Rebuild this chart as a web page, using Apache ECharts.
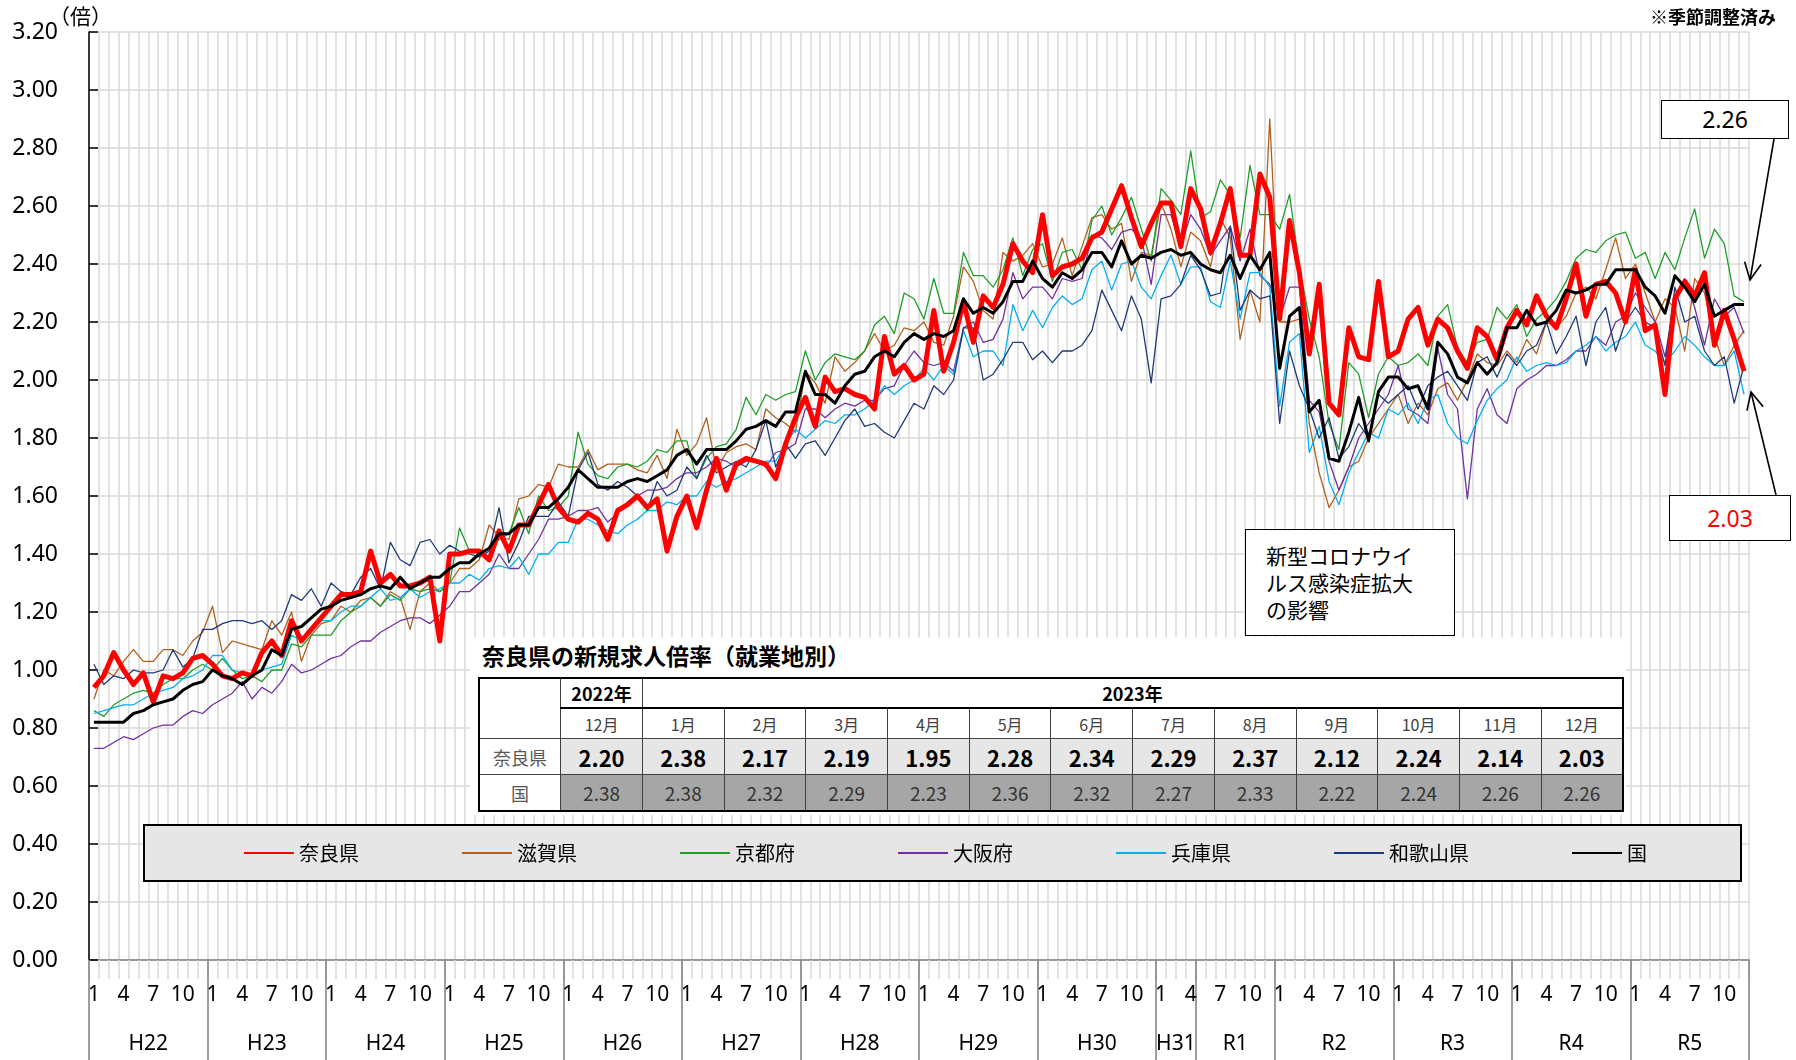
<!DOCTYPE html>
<html lang="ja">
<head>
<meta charset="utf-8">
<title>奈良県の新規求人倍率</title>
<script src="https://cdn.jsdelivr.net/npm/echarts@6.0.0/dist/echarts.min.js"></script>
<style>
html,body{margin:0;padding:0;background:#fff;}
#wrap{position:relative;width:1796px;height:1060px;overflow:hidden;background:#fff;}
#chart{position:absolute;left:0;top:0;width:1796px;height:1060px;}
.ov{position:absolute;font-family:"Noto Sans CJK JP","Noto Sans",sans-serif;color:#000;}
#tblbg{left:470px;top:637px;width:1156px;height:178px;background:#fff;}
#ttl{left:482px;top:639px;font-size:23px;font-weight:bold;line-height:32px;white-space:nowrap;}
#tbl{left:478px;top:677px;border-collapse:collapse;table-layout:fixed;width:1144px;border:2px solid #000;background:#fff;}
#tbl td{border:1px solid #404040;text-align:center;padding:0;overflow:hidden;white-space:nowrap;}
#tbl tr.r1 td{height:28px;font-size:18px;font-weight:bold;border-bottom:2px solid #000;}
#tbl tr.r2 td{height:29px;font-size:16px;color:#404040;}
#tbl tr.r3 td{height:35px;font-size:22px;font-weight:bold;background:#e7e6e6;}
#tbl tr.r4 td{height:35px;font-size:19px;color:#333;background:#a6a6a6;}
#tbl td.lab{background:#fff !important;font-size:18px !important;font-weight:normal !important;color:#595959 !important;}
#covid{left:1245px;top:529px;width:210px;height:107px;box-sizing:border-box;border:1px solid #000;background:#fff;font-size:21px;line-height:27px;padding:12px 0 0 20px;}
.vbox{box-sizing:border-box;border:1px solid #000;background:#fff;font-size:23px;text-align:center;font-family:"Noto Sans",sans-serif;}
#b226{left:1661px;top:100px;width:128px;height:39px;line-height:37px;}
#b203{left:1669px;top:495px;width:122px;height:46px;line-height:44px;color:#ff0000;}
#note{left:1650px;top:3px;font-size:18px;font-weight:bold;white-space:nowrap;}
#unit{left:49px;top:0px;font-size:21px;white-space:nowrap;}
</style>
</head>
<body>
<div id="wrap">
  <div id="chart"></div>
  <div id="tblbg" class="ov"></div>
  <div id="ttl" class="ov">奈良県の新規求人倍率（就業地別）</div>
  <table id="tbl" class="ov"></table>
  <div id="covid" class="ov">新型コロナウイ<br>ルス感染症拡大<br>の影響</div>
  <div id="b226" class="ov vbox">2.26</div>
  <div id="b203" class="ov vbox">2.03</div>
  <div id="note" class="ov">※季節調整済み</div>
  <div id="unit" class="ov">（倍）</div>
  <svg id="arrows" class="ov" style="left:0;top:0;" width="1796" height="1060"></svg>
</div>
<script>
// ---------- data (monthly, Jan 2010 (H22) .. Dec 2023 (R5)) ----------
const monthNames = ['1','2','3','4','5','6','7','8','9','10','11','12'];
const yearNames = ['H22','H23','H24','H25','H26','H27','H28','H29','H30','H31','R1','R2','R3','R4','R5'];
const yearCenters = [6,18,30,42,54,66,78,90,102,110,116,126,138,150,162];
const yearBounds = [0,12,24,36,48,60,72,84,96,108,112,120,132,144,156,168];
const seriesNames = ['奈良県','滋賀県','京都府','大阪府','兵庫県','和歌山県','国'];

const nara = [
 0.94,0.98,1.06,1.00,0.95,0.99,0.89,0.98,0.97,0.99,1.04,1.05,
 1.02,0.98,0.97,0.99,0.98,1.06,1.10,1.05,1.17,1.10,1.14,1.18,
 1.22,1.26,1.26,1.27,1.41,1.30,1.33,1.29,1.29,1.30,1.32,1.10,
 1.40,1.40,1.41,1.41,1.38,1.48,1.41,1.50,1.50,1.57,1.64,1.56,
 1.52,1.51,1.54,1.52,1.45,1.55,1.57,1.60,1.56,1.59,1.41,1.53,
 1.60,1.49,1.62,1.73,1.62,1.71,1.73,1.72,1.71,1.66,1.78,1.87,
 1.94,1.84,2.01,1.96,1.97,1.95,1.94,1.90,2.15,2.02,2.05,2.00,
 2.02,2.24,2.03,2.13,2.27,2.13,2.29,2.25,2.33,2.47,2.41,2.37,
 2.57,2.36,2.39,2.40,2.42,2.49,2.51,2.59,2.67,2.56,2.46,2.54,
 2.61,2.61,2.46,2.66,2.59,2.44,2.54,2.66,2.43,2.43,2.71,2.63,
 2.21,2.55,2.37,2.09,2.33,1.92,1.88,2.18,2.08,2.07,2.34,2.08,
 2.10,2.21,2.25,2.12,2.21,2.18,2.10,2.04,2.18,2.15,2.07,2.18,
 2.24,2.19,2.29,2.22,2.18,2.28,2.40,2.22,2.33,2.34,2.30,2.20,
 2.38,2.17,2.19,1.95,2.28,2.34,2.29,2.37,2.12,2.24,2.14,2.03
];
const shiga = [
 0.90,1.00,0.98,1.03,1.07,1.03,1.03,1.07,1.07,1.05,1.10,1.13,
 1.22,1.06,1.10,1.09,1.08,1.07,1.17,1.12,1.20,1.03,1.12,1.16,
 1.17,1.22,1.20,1.24,1.25,1.22,1.27,1.25,1.14,1.27,1.30,1.27,
 1.30,1.35,1.35,1.38,1.50,1.46,1.45,1.59,1.60,1.64,1.63,1.71,
 1.70,1.70,1.76,1.69,1.71,1.71,1.71,1.69,1.68,1.74,1.66,1.83,
 1.74,1.78,1.87,1.69,1.75,1.77,1.78,1.76,1.90,1.87,1.85,1.82,
 2.03,1.99,1.92,2.08,2.03,2.06,2.10,2.16,2.10,2.12,2.18,2.17,
 2.20,2.13,2.12,2.22,2.39,2.34,2.24,2.21,2.44,2.41,2.43,2.47,
 2.39,2.40,2.49,2.36,2.46,2.56,2.57,2.52,2.54,2.34,2.44,2.43,
 2.61,2.52,2.39,2.51,2.48,2.39,2.56,2.49,2.14,2.31,2.20,2.90,
 2.20,2.20,2.21,1.85,1.68,1.56,1.62,1.70,1.72,1.80,1.85,1.90,
 1.95,1.85,1.92,1.88,1.97,1.99,1.93,2.00,2.09,2.06,2.05,2.10,
 2.06,2.14,2.09,2.20,2.18,2.22,2.30,2.32,2.28,2.38,2.49,2.35,
 2.40,2.30,2.20,2.28,2.25,2.10,2.35,2.30,2.15,2.05,2.12,2.17
];
const kyoto = [
 0.86,0.84,0.88,0.90,0.92,0.93,0.92,0.95,0.97,0.97,1.00,1.02,
 1.00,1.04,1.00,0.97,0.98,0.96,1.00,1.00,1.09,1.08,1.12,1.12,
 1.12,1.17,1.20,1.22,1.25,1.22,1.26,1.24,1.28,1.27,1.28,1.27,
 1.30,1.49,1.41,1.40,1.42,1.45,1.47,1.56,1.47,1.60,1.55,1.56,
 1.60,1.82,1.71,1.67,1.66,1.70,1.71,1.70,1.72,1.76,1.75,1.79,
 1.79,1.66,1.73,1.77,1.78,1.83,1.94,1.88,1.95,1.93,1.95,1.96,
 2.10,2.00,2.06,2.09,2.08,2.07,2.10,2.19,2.22,2.16,2.30,2.28,
 2.21,2.35,2.23,2.23,2.44,2.36,2.36,2.32,2.38,2.49,2.36,2.45,
 2.47,2.34,2.44,2.45,2.38,2.55,2.60,2.50,2.56,2.63,2.52,2.41,
 2.66,2.62,2.57,2.79,2.56,2.58,2.69,2.64,2.49,2.74,2.57,2.57,
 2.52,2.64,2.39,2.21,2.08,1.85,1.76,2.06,2.02,1.87,2.02,2.08,
 2.05,2.06,2.09,2.05,2.22,2.26,2.11,2.06,2.13,2.14,2.25,2.21,
 2.26,2.15,2.21,2.24,2.28,2.34,2.42,2.45,2.44,2.48,2.50,2.51,
 2.42,2.44,2.35,2.44,2.38,2.49,2.59,2.42,2.52,2.47,2.29,2.27
];
const osaka = [
 0.73,0.73,0.75,0.77,0.76,0.78,0.80,0.81,0.81,0.84,0.86,0.85,
 0.88,0.90,0.92,0.96,0.90,0.94,0.92,0.96,1.02,0.99,1.00,1.02,
 1.04,1.05,1.08,1.10,1.10,1.13,1.15,1.17,1.18,1.18,1.16,1.19,
 1.22,1.27,1.27,1.30,1.33,1.40,1.35,1.35,1.40,1.45,1.52,1.52,
 1.53,1.55,1.55,1.56,1.51,1.54,1.58,1.60,1.62,1.62,1.63,1.66,
 1.68,1.68,1.70,1.73,1.72,1.70,1.72,1.72,1.70,1.75,1.76,1.78,
 1.90,1.90,1.87,1.90,1.92,1.91,1.93,1.93,1.97,1.98,2.05,2.10,
 2.06,2.05,2.06,2.03,2.18,2.20,2.13,2.14,2.21,2.37,2.28,2.32,
 2.32,2.28,2.35,2.34,2.35,2.50,2.49,2.45,2.51,2.52,2.49,2.33,
 2.57,2.57,2.46,2.57,2.52,2.43,2.48,2.53,2.41,2.52,2.36,2.33,
 2.21,2.32,2.32,1.93,1.89,1.72,1.62,1.70,1.80,1.85,1.90,1.95,
 2.05,1.90,1.88,1.85,2.11,1.95,1.90,1.59,1.90,1.97,1.88,1.85,
 1.97,2.00,2.02,2.05,2.05,2.07,2.10,2.10,2.15,2.12,2.20,2.22,
 2.30,2.25,2.20,2.08,2.28,2.35,2.25,2.12,2.28,2.22,2.25,2.16
];
const hyogo = [
 0.85,0.86,0.87,0.88,0.88,0.90,0.92,0.93,0.94,0.97,0.98,1.00,
 1.05,1.05,1.00,0.99,0.98,1.00,1.01,1.02,1.12,1.10,1.14,1.17,
 1.17,1.20,1.22,1.22,1.25,1.28,1.24,1.25,1.28,1.25,1.27,1.28,
 1.30,1.30,1.33,1.31,1.35,1.36,1.35,1.39,1.33,1.40,1.40,1.44,
 1.44,1.52,1.52,1.50,1.48,1.47,1.50,1.52,1.55,1.55,1.58,1.57,
 1.60,1.60,1.65,1.63,1.65,1.66,1.68,1.70,1.72,1.72,1.78,1.83,
 1.80,1.83,1.86,1.85,1.88,1.88,1.90,1.93,1.98,1.95,1.98,2.00,
 2.04,2.00,2.05,2.02,2.17,2.08,2.10,2.10,2.05,2.26,2.17,2.24,
 2.18,2.25,2.29,2.26,2.28,2.38,2.41,2.31,2.40,2.41,2.32,2.28,
 2.36,2.43,2.33,2.39,2.39,2.27,2.25,2.41,2.21,2.37,2.37,2.32,
 1.91,2.13,2.16,1.75,1.84,1.65,1.57,1.68,1.75,1.82,1.80,1.90,
 1.88,1.92,1.85,1.93,1.95,1.85,1.80,1.78,1.86,1.93,1.97,2.00,
 2.08,2.03,2.05,2.06,2.05,2.06,2.10,2.12,2.15,2.10,2.13,2.15,
 2.20,2.12,2.10,2.06,2.10,2.15,2.12,2.08,2.05,2.05,2.10,1.95
];
const wakayama = [
 1.02,0.95,0.98,0.97,1.00,0.99,0.99,1.00,1.07,1.01,1.04,1.14,
 1.14,1.16,1.17,1.17,1.16,1.17,1.14,1.17,1.26,1.24,1.28,1.22,
 1.30,1.27,1.26,1.32,1.35,1.28,1.44,1.38,1.36,1.44,1.45,1.40,
 1.43,1.41,1.40,1.39,1.41,1.56,1.37,1.44,1.53,1.53,1.53,1.58,
 1.53,1.69,1.75,1.64,1.62,1.65,1.63,1.60,1.55,1.65,1.60,1.62,
 1.70,1.66,1.74,1.68,1.70,1.72,1.70,1.76,1.86,1.70,1.78,1.73,
 1.78,1.79,1.74,1.80,1.86,1.90,1.84,1.85,1.82,1.80,1.86,1.92,
 1.90,1.98,1.95,2.00,2.18,2.18,2.00,2.02,2.07,2.13,2.13,2.07,
 2.10,2.06,2.10,2.10,2.12,2.17,2.31,2.24,2.17,2.29,2.21,1.99,
 2.28,2.29,2.33,2.43,2.38,2.29,2.30,2.53,2.24,2.31,2.28,2.29,
 1.85,2.10,1.98,1.90,1.80,1.87,1.73,1.77,1.85,1.80,1.95,1.92,
 1.95,1.98,1.90,1.98,2.01,2.03,1.98,1.93,2.06,2.08,2.01,2.09,
 2.05,2.10,2.12,2.20,2.09,2.15,2.22,2.05,2.20,2.25,2.10,2.20,
 2.25,2.20,2.18,2.05,2.32,2.20,2.22,2.10,2.05,2.08,1.92,2.05
];
const national = [
 0.82,0.82,0.82,0.82,0.85,0.86,0.88,0.89,0.90,0.93,0.95,0.96,
 1.00,0.98,0.97,0.95,0.98,1.00,1.07,1.05,1.14,1.15,1.18,1.21,
 1.22,1.24,1.25,1.26,1.28,1.29,1.28,1.32,1.28,1.30,1.32,1.32,
 1.35,1.37,1.37,1.40,1.42,1.47,1.47,1.50,1.50,1.56,1.56,1.59,
 1.63,1.69,1.66,1.63,1.63,1.63,1.65,1.66,1.65,1.67,1.69,1.74,
 1.76,1.71,1.76,1.76,1.76,1.79,1.83,1.84,1.86,1.84,1.89,1.89,
 2.03,1.95,1.95,1.92,1.98,2.02,2.03,2.08,2.10,2.08,2.13,2.16,
 2.14,2.16,2.15,2.17,2.28,2.23,2.25,2.23,2.27,2.34,2.34,2.41,
 2.35,2.32,2.37,2.35,2.38,2.44,2.44,2.39,2.48,2.40,2.43,2.42,
 2.44,2.45,2.43,2.44,2.40,2.38,2.37,2.43,2.35,2.43,2.38,2.44,
 2.04,2.22,2.25,1.89,1.93,1.73,1.72,1.82,1.94,1.79,1.96,2.01,
 2.01,1.97,1.98,1.90,2.13,2.09,2.01,1.99,2.06,2.02,2.06,2.18,
 2.18,2.24,2.19,2.20,2.24,2.31,2.30,2.31,2.33,2.33,2.38,2.38,
 2.38,2.32,2.29,2.23,2.36,2.32,2.27,2.33,2.22,2.24,2.26,2.26
];

// table (Dec 2022 .. Dec 2023)
const tableYears = [{label:'2022年', span:1}, {label:'2023年', span:12}];
const tableMonths = ['12月','1月','2月','3月','4月','5月','6月','7月','8月','9月','10月','11月','12月'];
const tableNara = [2.20,2.38,2.17,2.19,1.95,2.28,2.34,2.29,2.37,2.12,2.24,2.14,2.03];
const tableNation = [2.38,2.38,2.32,2.29,2.23,2.36,2.32,2.27,2.33,2.22,2.24,2.26,2.26];

// ---------- build categories ----------
const categories = [];
for (let y = 0; y < 14; y++) for (let m = 0; m < 12; m++) categories.push(monthNames[m]);

const seriesData = [nara, shiga, kyoto, osaka, hyogo, wakayama, national];
const seriesColors = ['#ff0000','#b0601e','#1f9e2a','#7030a0','#00b0f0','#1f3a78','#000000'];
const seriesWidths = [5, 1.3, 1.3, 1.3, 1.3, 1.3, 3];
const seriesZ = [8, 3, 3, 3, 3, 3, 9];

const chart = echarts.init(document.getElementById('chart'), null, {renderer:'canvas'});
const gridColor = '#d9d9d9';
chart.setOption({
  animation: false,
  backgroundColor: '#ffffff',
  grid: {left: 89, right: 47, top: 32, bottom: 100, containLabel: false},
  xAxis: [
    {
      type: 'category', data: categories, boundaryGap: true,
      axisLine: {show: true, lineStyle: {color: '#7f7f7f', width: 1.5}},
      axisTick: {show: true, interval: 0, length: 19, lineStyle: {color: gridColor, width: 1.5}},
      axisLabel: {interval: function (idx) { return idx % 3 === 0; }, fontSize: 21, color: '#000',
                  margin: 25, fontFamily: 'Noto Sans'},
      splitLine: {show: true, interval: 0, lineStyle: {color: gridColor, width: 1.5}}
    },
    {
      type: 'value', min: 0, max: 168, interval: 2, position: 'bottom',
      axisLine: {show: false}, splitLine: {show: false},
      axisTick: {show: true, customValues: yearBounds, length: 100, lineStyle: {color: '#7f7f7f', width: 1.5}},
      axisLabel: {customValues: yearCenters, fontSize: 21, color: '#000', margin: 74, fontFamily: 'Noto Sans',
                  formatter: function (v) { const k = yearCenters.indexOf(Math.round(v)); return k >= 0 ? yearNames[k] : ''; }}
    }
  ],
  yAxis: {
    type: 'value', min: 0, max: 3.2, interval: 0.2,
    axisLine: {show: true, lineStyle: {color: '#000', width: 1.5}},
    axisTick: {show: true, inside: true, length: 9, lineStyle: {color: '#000', width: 1.5}},
    axisLabel: {formatter: function (v) { return v.toFixed(2); }, fontSize: 23, color: '#000', margin: 31, fontFamily: 'Noto Sans'},
    splitLine: {show: true, lineStyle: {color: gridColor, width: 1.5}}
  },
  legend: {
    data: seriesNames,
    left: 144, top: 825, orient: 'horizontal',
    itemWidth: 50, itemHeight: 20, itemGap: 102,
    padding: [18, 94, 18, 99],
    backgroundColor: '#e7e6e6', borderColor: '#000', borderWidth: 2,
    textStyle: {fontSize: 20, color: '#000', fontFamily: 'Noto Sans CJK JP'},
    itemStyle: {opacity: 0},
    selectedMode: false
  },
  series: seriesNames.map(function (n, k) {
    return {
      name: n, type: 'line', data: seriesData[k], xAxisIndex: 0, yAxisIndex: 0,
      symbol: 'none', showSymbol: false, z: seriesZ[k],
      lineStyle: {color: seriesColors[k], width: seriesWidths[k], join: 'round'},
      itemStyle: {color: seriesColors[k]},
      emphasis: {disabled: true}
    };
  })
});

// ---------- table ----------
(function () {
  const t = document.getElementById('tbl');
  let h = '<colgroup>';
  for (let i = 0; i < 14; i++) h += '<col style="width:' + (1144 / 14).toFixed(2) + 'px">';
  h += '</colgroup>';
  h += '<tr class="r1"><td class="lab" rowspan="2" style="border-bottom:1px solid #404040"></td>';
  tableYears.forEach(function (y) { h += '<td colspan="' + y.span + '">' + y.label + '</td>'; });
  h += '</tr><tr class="r2">';
  tableMonths.forEach(function (m) { h += '<td>' + m + '</td>'; });
  h += '</tr><tr class="r3"><td class="lab">奈良県</td>';
  tableNara.forEach(function (v) { h += '<td>' + v.toFixed(2) + '</td>'; });
  h += '</tr><tr class="r4"><td class="lab">国</td>';
  tableNation.forEach(function (v) { h += '<td>' + v.toFixed(2) + '</td>'; });
  h += '</tr>';
  t.innerHTML = h;
})();

// ---------- arrows ----------
(function () {
  const svg = document.getElementById('arrows');
  function arrow(x1, y1, x2, y2) {
    const dx = x2 - x1, dy = y2 - y1, L = Math.hypot(dx, dy);
    const bx = -dx / L, by = -dy / L, a = 26 * Math.PI / 180, len = 19;
    const p1 = [x2 + len * (bx * Math.cos(a) - by * Math.sin(a)), y2 + len * (bx * Math.sin(a) + by * Math.cos(a))];
    const p2 = [x2 + len * (bx * Math.cos(-a) - by * Math.sin(-a)), y2 + len * (bx * Math.sin(-a) + by * Math.cos(-a))];
    return '<line x1="' + x1 + '" y1="' + y1 + '" x2="' + x2 + '" y2="' + y2 + '" stroke="#000" stroke-width="1.6"/>' +
      '<polyline points="' + p1.join(',') + ' ' + x2 + ',' + y2 + ' ' + p2.join(',') + '" fill="none" stroke="#000" stroke-width="1.6"/>';
  }
  svg.innerHTML = arrow(1774, 139, 1750, 280) + arrow(1776, 495, 1751, 392);
})();
</script>
</body>
</html>
